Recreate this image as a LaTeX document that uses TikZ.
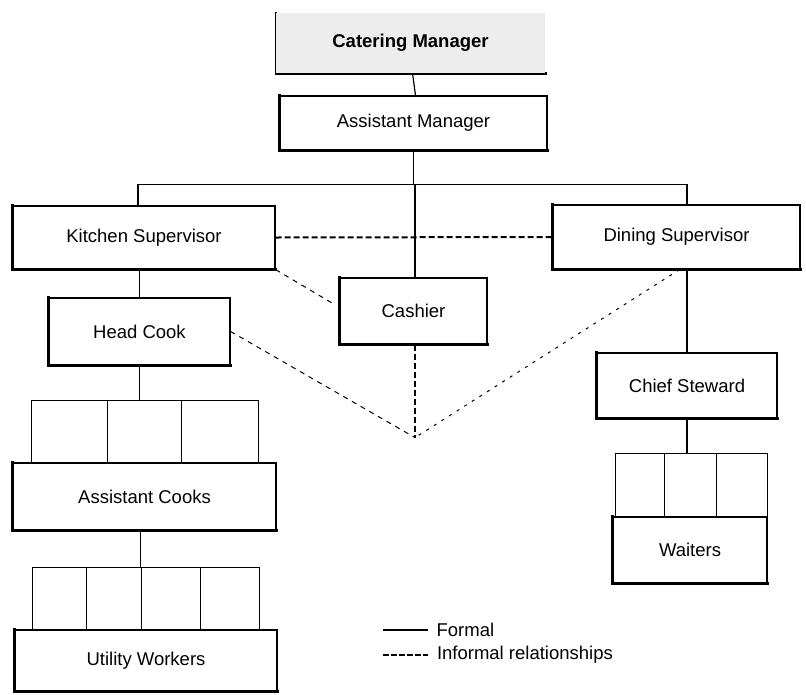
\documentclass[tikz,border=0pt]{standalone}
\usepackage{fontspec}
\setmainfont{Liberation Sans}
\usetikzlibrary{calc}
\begin{document}
\begin{tikzpicture}[x=1pt,y=-1pt,
  font=\fontsize{18.5}{21}\selectfont,
  shadowed/.style={append after command={
      \pgfextra{\draw[line width=2.6pt,line cap=rect]
        (\tikzlastnode.north west) -- (\tikzlastnode.south west) -- (\tikzlastnode.south east);}}},
  orgbox/.style={draw,line width=1.2pt,inner sep=0pt,shadowed},
  topbox/.style={fill=gray!14,inner sep=0pt,font=\fontsize{18.5}{21}\selectfont\bfseries,shadowed},
  cell/.style={draw,line width=0.9pt,inner sep=0pt},
  formal/.style={line width=1.2pt},
  informal/.style={line width=2pt,dash pattern=on 6pt off 3pt},
  loose/.style={line width=1pt,dash pattern=on 5pt off 5pt},
  sparse/.style={line width=1pt,dash pattern=on 3pt off 6pt}]
\useasboundingbox (0,0) rectangle (806,694);

% management
\node[topbox,minimum width=269,minimum height=60] (cm) at (410.5,43) {Catering Manager};
\node[orgbox,minimum width=267,minimum height=54] (am) at (413.5,123) {Assistant Manager};

% supervisors and cashier
\node[orgbox,minimum width=262,minimum height=63] (ks) at (144,237.5) {Kitchen Supervisor};
\node[orgbox,minimum width=247,minimum height=64] (ds) at (676.5,237) {Dining Supervisor};
\node[orgbox,minimum width=147,minimum height=66] (ca) at (413.5,311) {Cashier};

% kitchen side
\node[orgbox,minimum width=181,minimum height=67] (hc) at (139.5,331.5) {Head Cook};
\node[cell,minimum width=76,minimum height=63] (acg1) at (69,431.5) {};
\node[cell,minimum width=74,minimum height=63] (acg2) at (144,431.5) {};
\node[cell,minimum width=77,minimum height=63] (acg3) at (219.5,431.5) {};
\node[orgbox,minimum width=263,minimum height=67] (ac) at (144.5,496.5) {Assistant Cooks};
\node[cell,minimum width=54,minimum height=63] (ug1) at (59,598.5) {};
\node[cell,minimum width=55,minimum height=63] (ug2) at (113.5,598.5) {};
\node[cell,minimum width=59,minimum height=63] (ug3) at (170.5,598.5) {};
\node[cell,minimum width=59,minimum height=63] (ug4) at (229.5,598.5) {};
\node[orgbox,minimum width=262,minimum height=61] (uw) at (146,660.5) {Utility Workers};

% dining side
\node[orgbox,minimum width=180,minimum height=65] (cs) at (687,385.5) {Chief Steward};
\node[cell,minimum width=49,minimum height=64] (wg1) at (639.5,485) {};
\node[cell,minimum width=52,minimum height=64] (wg2) at (690,485) {};
\node[cell,minimum width=51,minimum height=64] (wg3) at (741.5,485) {};
\node[orgbox,minimum width=154,minimum height=66] (wa) at (690,550) {Waiters};

% formal lines
\draw[formal] ([xshift=2pt]cm.south) -- ([xshift=2pt]am.north);
\draw[formal] ([xshift=-6pt]ks.north) -- ++(0,-21) coordinate (barL) -| ([xshift=10.5pt]ds.north);
\draw[formal] (am.south) -- (am.south |- barL);
\draw[formal] ([xshift=1.5pt]ca.north) -- ([xshift=1.5pt]ca.north |- barL);
\draw[formal] (hc.north |- ks.south) -- (hc.north);
\draw[formal] (hc.south) -- (hc.south |- acg2.north);
\draw[formal] (ac.south -| ug3.west) -- (ug3.north west);
\draw[formal] (cs.north |- ds.south) -- (cs.north);
\draw[formal] (cs.south) -- (cs.south |- wg2.north);

% informal relationships
\coordinate (apex) at ($(ca.south)+(1.5,93)$);
\draw[informal] (ks.east) -- (ds.west);
\draw[informal] ([xshift=1.5pt]ca.south) -- (apex);
\draw[loose] (ks.south east) -- ($(ca.west)+(-4,-6)$) coordinate (caIn);
\draw[loose] (hc.east) -- (apex);
\draw[sparse] ([xshift=3pt]ds.south) -- (apex);

% legend
\coordinate (lf1) at (383,630);
\coordinate (lf2) at (428,630);
\coordinate (li1) at (383,655);
\coordinate (li2) at (428,655);
\draw[formal] (lf1) -- (lf2) node[anchor=west,inner sep=0pt,xshift=8pt] (lfT) {Formal};
\draw[line width=2pt,dash pattern=on 6pt off 2pt] (li1) -- (li2)
  node[anchor=west,inner sep=0pt,xshift=8pt] (liT) {Informal relationships};
\end{tikzpicture}
\end{document}
